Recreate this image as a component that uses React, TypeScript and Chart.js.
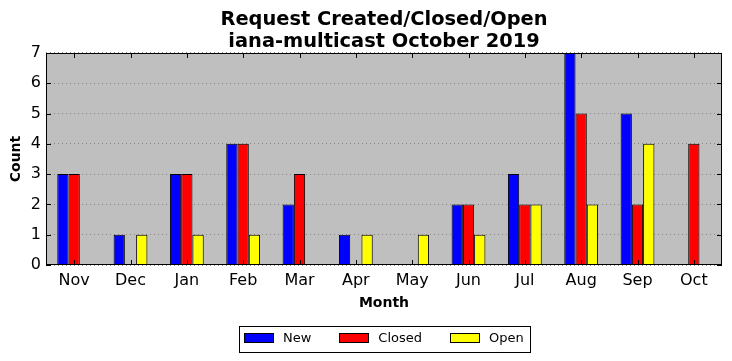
import { useEffect, useRef } from "react";
import { Chart, registerables } from "chart.js";

Chart.register(...registerables);

const months = ["Nov", "Dec", "Jan", "Feb", "Mar", "Apr", "May", "Jun", "Jul", "Aug", "Sep", "Oct"];
const newCounts = [3, 1, 3, 4, 2, 1, 0, 2, 3, 7, 5, 0];
const closedCounts = [3, 0, 3, 4, 3, 0, 0, 2, 2, 5, 2, 4];
const openCounts = [0, 1, 1, 1, 0, 1, 1, 1, 2, 2, 4, 0];
const seriesNames = ["New", "Closed", "Open"];
const seriesColors = ["#0000ff", "#ff0000", "#ffff00"];
const titleLines = ["Request Created/Closed/Open", "iana-multicast October 2019"];
const xTitle = "Month";
const yTitle = "Count";
const yMin = 0;
const yMax = 7;

const FONT = "DejaVu Sans";

const framePlugin = {
  id: "frame",
  beforeDraw(chart: any) {
    const { ctx, chartArea: ca } = chart;
    if (chart.titleBlock) {
      chart.titleBlock.left = ca.left;
      chart.titleBlock.right = ca.right;
    }
    ctx.save();
    ctx.fillStyle = "#bfbfbf";
    ctx.fillRect(ca.left, ca.top, ca.right - ca.left, ca.bottom - ca.top);
    ctx.restore();
  },
  afterDatasetsDraw(chart: any) {
    const { ctx, chartArea: ca } = chart;
    const xs = chart.scales.x;
    const ys = chart.scales.y;
    const tl = 5;
    ctx.save();
    ctx.strokeStyle = "#000";
    ctx.lineWidth = 1;
    ctx.beginPath();
    xs.ticks.forEach((_t: any, i: number) => {
      const px = Math.round(xs.getPixelForTick(i)) + 0.5;
      ctx.moveTo(px, ca.bottom);
      ctx.lineTo(px, ca.bottom - tl);
      ctx.moveTo(px, ca.top);
      ctx.lineTo(px, ca.top + tl);
    });
    ys.ticks.forEach((t: any) => {
      const py = Math.round(ys.getPixelForValue(t.value)) + 0.5;
      ctx.moveTo(ca.left, py);
      ctx.lineTo(ca.left + tl, py);
      ctx.moveTo(ca.right, py);
      ctx.lineTo(ca.right - tl, py);
    });
    ctx.stroke();
    ctx.strokeRect(Math.round(ca.left) + 0.5, Math.round(ca.top) + 0.5, Math.round(ca.right - ca.left) - 1, Math.round(ca.bottom - ca.top) - 1);
    ctx.restore();
  },
  afterDraw(chart: any) {
    const { ctx, chartArea: ca } = chart;
    ctx.save();
    ctx.font = `13px "${FONT}"`;
    const items = chart.data.datasets.map((d: any) => ({
      label: d.label,
      color: d.backgroundColor,
      w: ctx.measureText(d.label).width,
    }));
    const sw = 29, sh = 9, gapT = 10, gapI = 28, padL = 5, padR = 6, h = 26;
    let total = padL + padR + gapI * (items.length - 1);
    items.forEach((it: any) => (total += sw + gapT + it.w));
    const cx = (ca.left + ca.right) / 2;
    const x0 = Math.round(cx - total / 2);
    const top = Math.round(ca.bottom + 61);
    ctx.fillStyle = "#fff";
    ctx.fillRect(x0, top, total, h);
    ctx.strokeStyle = "#000";
    ctx.lineWidth = 1;
    ctx.strokeRect(x0 + 0.5, top + 0.5, Math.round(total), h);
    let x = x0 + padL;
    ctx.textBaseline = "middle";
    ctx.textAlign = "left";
    items.forEach((it: any) => {
      const sx = Math.round(x);
      ctx.fillStyle = it.color;
      ctx.fillRect(sx, top + 7, sw, sh);
      ctx.strokeStyle = "#000";
      ctx.strokeRect(sx + 0.5, top + 7.5, sw, sh);
      ctx.fillStyle = "#000";
      ctx.fillText(it.label, x + sw + gapT, top + 13);
      x += sw + gapT + it.w + gapI;
    });
    ctx.restore();
  },
};

export default function App() {
  const ref = useRef<HTMLCanvasElement | null>(null);
  useEffect(() => {
    if (!ref.current) return;
    const values = [newCounts, closedCounts, openCounts];
    const chart = new Chart(ref.current, {
      type: "bar",
      data: {
        labels: months,
        datasets: values.map((v, i) => ({
          label: seriesNames[i],
          data: v,
          backgroundColor: seriesColors[i],
          borderColor: "#000",
          borderWidth: 1,
          categoryPercentage: 0.6,
          barPercentage: 1.0,
        })),
      },
      options: {
        animation: false,
        responsive: false,
        devicePixelRatio: 1,
        layout: { padding: { left: 0, right: 10, top: 0, bottom: 46 } },
        plugins: {
          legend: { display: false },
          tooltip: { enabled: false },
          title: {
            display: true,
            text: titleLines,
            color: "#000",
            font: { family: FONT, size: 19.4, weight: "bold", lineHeight: 1.12 },
            padding: { top: 9, bottom: 0.5 },
          },
        },
        scales: {
          x: {
            grid: { display: false, drawTicks: false },
            border: { display: false },
            ticks: { color: "#000", font: { family: FONT, size: 16 }, padding: 6, maxRotation: 0 },
            title: {
              display: true,
              text: xTitle,
              color: "#000",
              font: { family: FONT, size: 14, weight: "bold", lineHeight: 1.2 },
              padding: { top: 0, bottom: 3.6 },
            },
            afterFit: (s: any) => {
              s.height = 50;
            },
          },
          y: {
            min: yMin,
            max: yMax,
            grid: {
              display: true,
              drawTicks: false,
              color: "#7a7a7a",
              lineWidth: 0.8,
            },
            border: { display: false, dash: [1, 3] },
            ticks: { stepSize: 1, color: "#000", font: { family: FONT, size: 16 }, padding: 5 },
            title: {
              display: true,
              text: yTitle,
              color: "#000",
              font: { family: FONT, size: 14, weight: "bold", lineHeight: 1.2 },
              padding: { top: 7.6, bottom: 0 },
            },
            afterFit: (s: any) => {
              s.width = 46;
            },
          },
        },
      },
      plugins: [framePlugin],
    });
    return () => chart.destroy();
  }, []);
  return (
    <div style={{ position: "fixed", left: 0, top: 0, width: 732, height: 361, background: "#fff" }}>
      <canvas ref={ref} width={732} height={361} style={{ width: 732, height: 361, display: "block" }} />
    </div>
  );
}
